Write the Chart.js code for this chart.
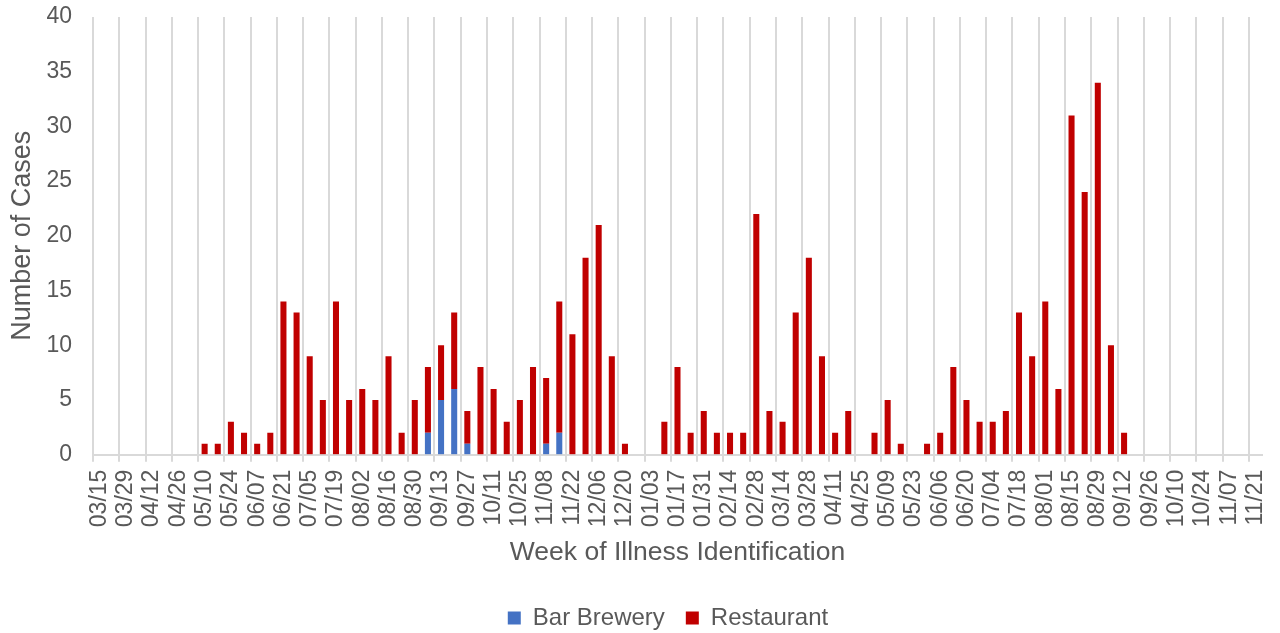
<!DOCTYPE html>
<html>
<head>
<meta charset="utf-8">
<script src="https://cdn.jsdelivr.net/npm/chart.js@4"></script>
<style>
  html, body { margin: 0; padding: 0; background: #ffffff; }
  #wrap { width: 1280px; height: 633px; position: relative; }
</style>
</head>
<body>
<div id="wrap"><canvas id="c"></canvas></div>
<script>
const weeks = [
  "03/15","03/22","03/29","04/05","04/12","04/19","04/26","05/03","05/10","05/17",
  "05/24","05/31","06/07","06/14","06/21","06/28","07/05","07/12","07/19","07/26",
  "08/02","08/09","08/16","08/23","08/30","09/06","09/13","09/20","09/27","10/04",
  "10/11","10/18","10/25","11/01","11/08","11/15","11/22","11/29","12/06","12/13",
  "12/20","12/27","01/03","01/10","01/17","01/24","01/31","02/07","02/14","02/21",
  "02/28","03/07","03/14","03/21","03/28","04/04","04/11","04/18","04/25","05/02",
  "05/09","05/16","05/23","05/30","06/06","06/13","06/20","06/27","07/04","07/11",
  "07/18","07/25","08/01","08/08","08/15","08/22","08/29","09/05","09/12","09/19",
  "09/26","10/03","10/10","10/17","10/24","10/31","11/07","11/14","11/21"
];

const barBrewery = [
  0,0,0,0,0,0,0,0,0,0,
  0,0,0,0,0,0,0,0,0,0,
  0,0,0,0,0,2,5,6,1,0,
  0,0,0,0,1,2,0,0,0,0,
  0,0,0,0,0,0,0,0,0,0,
  0,0,0,0,0,0,0,0,0,0,
  0,0,0,0,0,0,0,0,0,0,
  0,0,0,0,0,0,0,0,0,0,
  0,0,0,0,0,0,0,0,0
];

// Restaurant portion (stacked on top of Bar Brewery)
const restaurant = [
  0,0,0,0,0,0,0,0,1,1,
  3,2,1,2,14,13,9,5,14,5,
  6,5,9,2,5,6,5,7,3,8,
  6,3,5,8,6,12,11,18,21,9,
  1,0,0,3,8,2,4,2,2,2,
  22,4,3,13,18,9,2,4,0,2,
  5,1,0,1,2,8,5,3,3,4,
  13,9,14,6,31,24,34,10,2,0,
  0,0,0,0,0,0,0,0,0
];

const yTicks = [0,5,10,15,20,25,30,35,40];

const FONT = "'Liberation Sans', Arial, sans-serif";
const GREY = '#595959';
const GRID = '#D9D9D9';

const legendShift = {
  id: 'legendShift',
  afterLayout(chart) {
    const l = chart.legend;
    if (!l) return;
    l.left += 35; l.right += 35;
    l.top += 7; l.bottom += 7;
  }
};

new Chart(document.getElementById('c'), {
  type: 'bar',
  data: {
    labels: weeks,
    datasets: [
      { label: 'Bar Brewery', data: barBrewery, backgroundColor: '#4472C4',
        barPercentage: 0.46, categoryPercentage: 1.0 },
      { label: 'Restaurant', data: restaurant, backgroundColor: '#C00000',
        barPercentage: 0.46, categoryPercentage: 1.0 }
    ]
  },
  plugins: [legendShift],
  options: {
    responsive: true,
    maintainAspectRatio: false,
    animation: false,
    layout: { padding: { top: 17, right: 18, left: 4, bottom: 0 } },
    plugins: {
      tooltip: { enabled: false },
      legend: {
        position: 'bottom',
        labels: {
          font: { family: FONT, size: 24 },
          color: GREY,
          boxWidth: 13,
          boxHeight: 13,
          padding: 21
        }
      }
    },
    scales: {
      x: {
        stacked: true,
        offset: true,
        afterFit: (s) => { s.paddingLeft = 0; s.paddingRight = 0; },
        grid: {
          offset: true,
          color: (ctx) => (ctx.index % 2 === 0 ? GRID : 'rgba(0,0,0,0)'),
          lineWidth: 2,
          tickLength: 7,
          drawOnChartArea: true
        },
        border: { display: true, color: GRID, width: 2 },
        ticks: {
          autoSkip: false,
          maxRotation: 90,
          minRotation: 90,
          padding: 8,
          color: GREY,
          font: { family: FONT, size: 23 },
          callback: function (v, i) { return i % 2 === 0 ? weeks[i] : ''; }
        },
        title: {
          display: true,
          text: 'Week of Illness Identification',
          color: GREY,
          font: { family: FONT, size: 26.5 },
          padding: { top: 2, bottom: 9 }
        }
      },
      y: {
        stacked: true,
        min: 0,
        max: 40,
        afterFit: (s) => { s.paddingTop = 0; s.paddingBottom = 0; },
        afterBuildTicks: (axis) => { axis.ticks = yTicks.map(v => ({ value: v })); },
        grid: { display: true, drawOnChartArea: false, drawTicks: true, tickLength: 11, color: 'rgba(0,0,0,0)' },
        border: { display: false },
        ticks: {
          color: GREY,
          padding: 10,
          font: { family: FONT, size: 23 }
        },
        title: {
          display: true,
          text: 'Number of Cases',
          color: GREY,
          font: { family: FONT, size: 27 },
          padding: { top: 2, bottom: -2 }
        }
      }
    }
  }
});
</script>
</body>
</html>
